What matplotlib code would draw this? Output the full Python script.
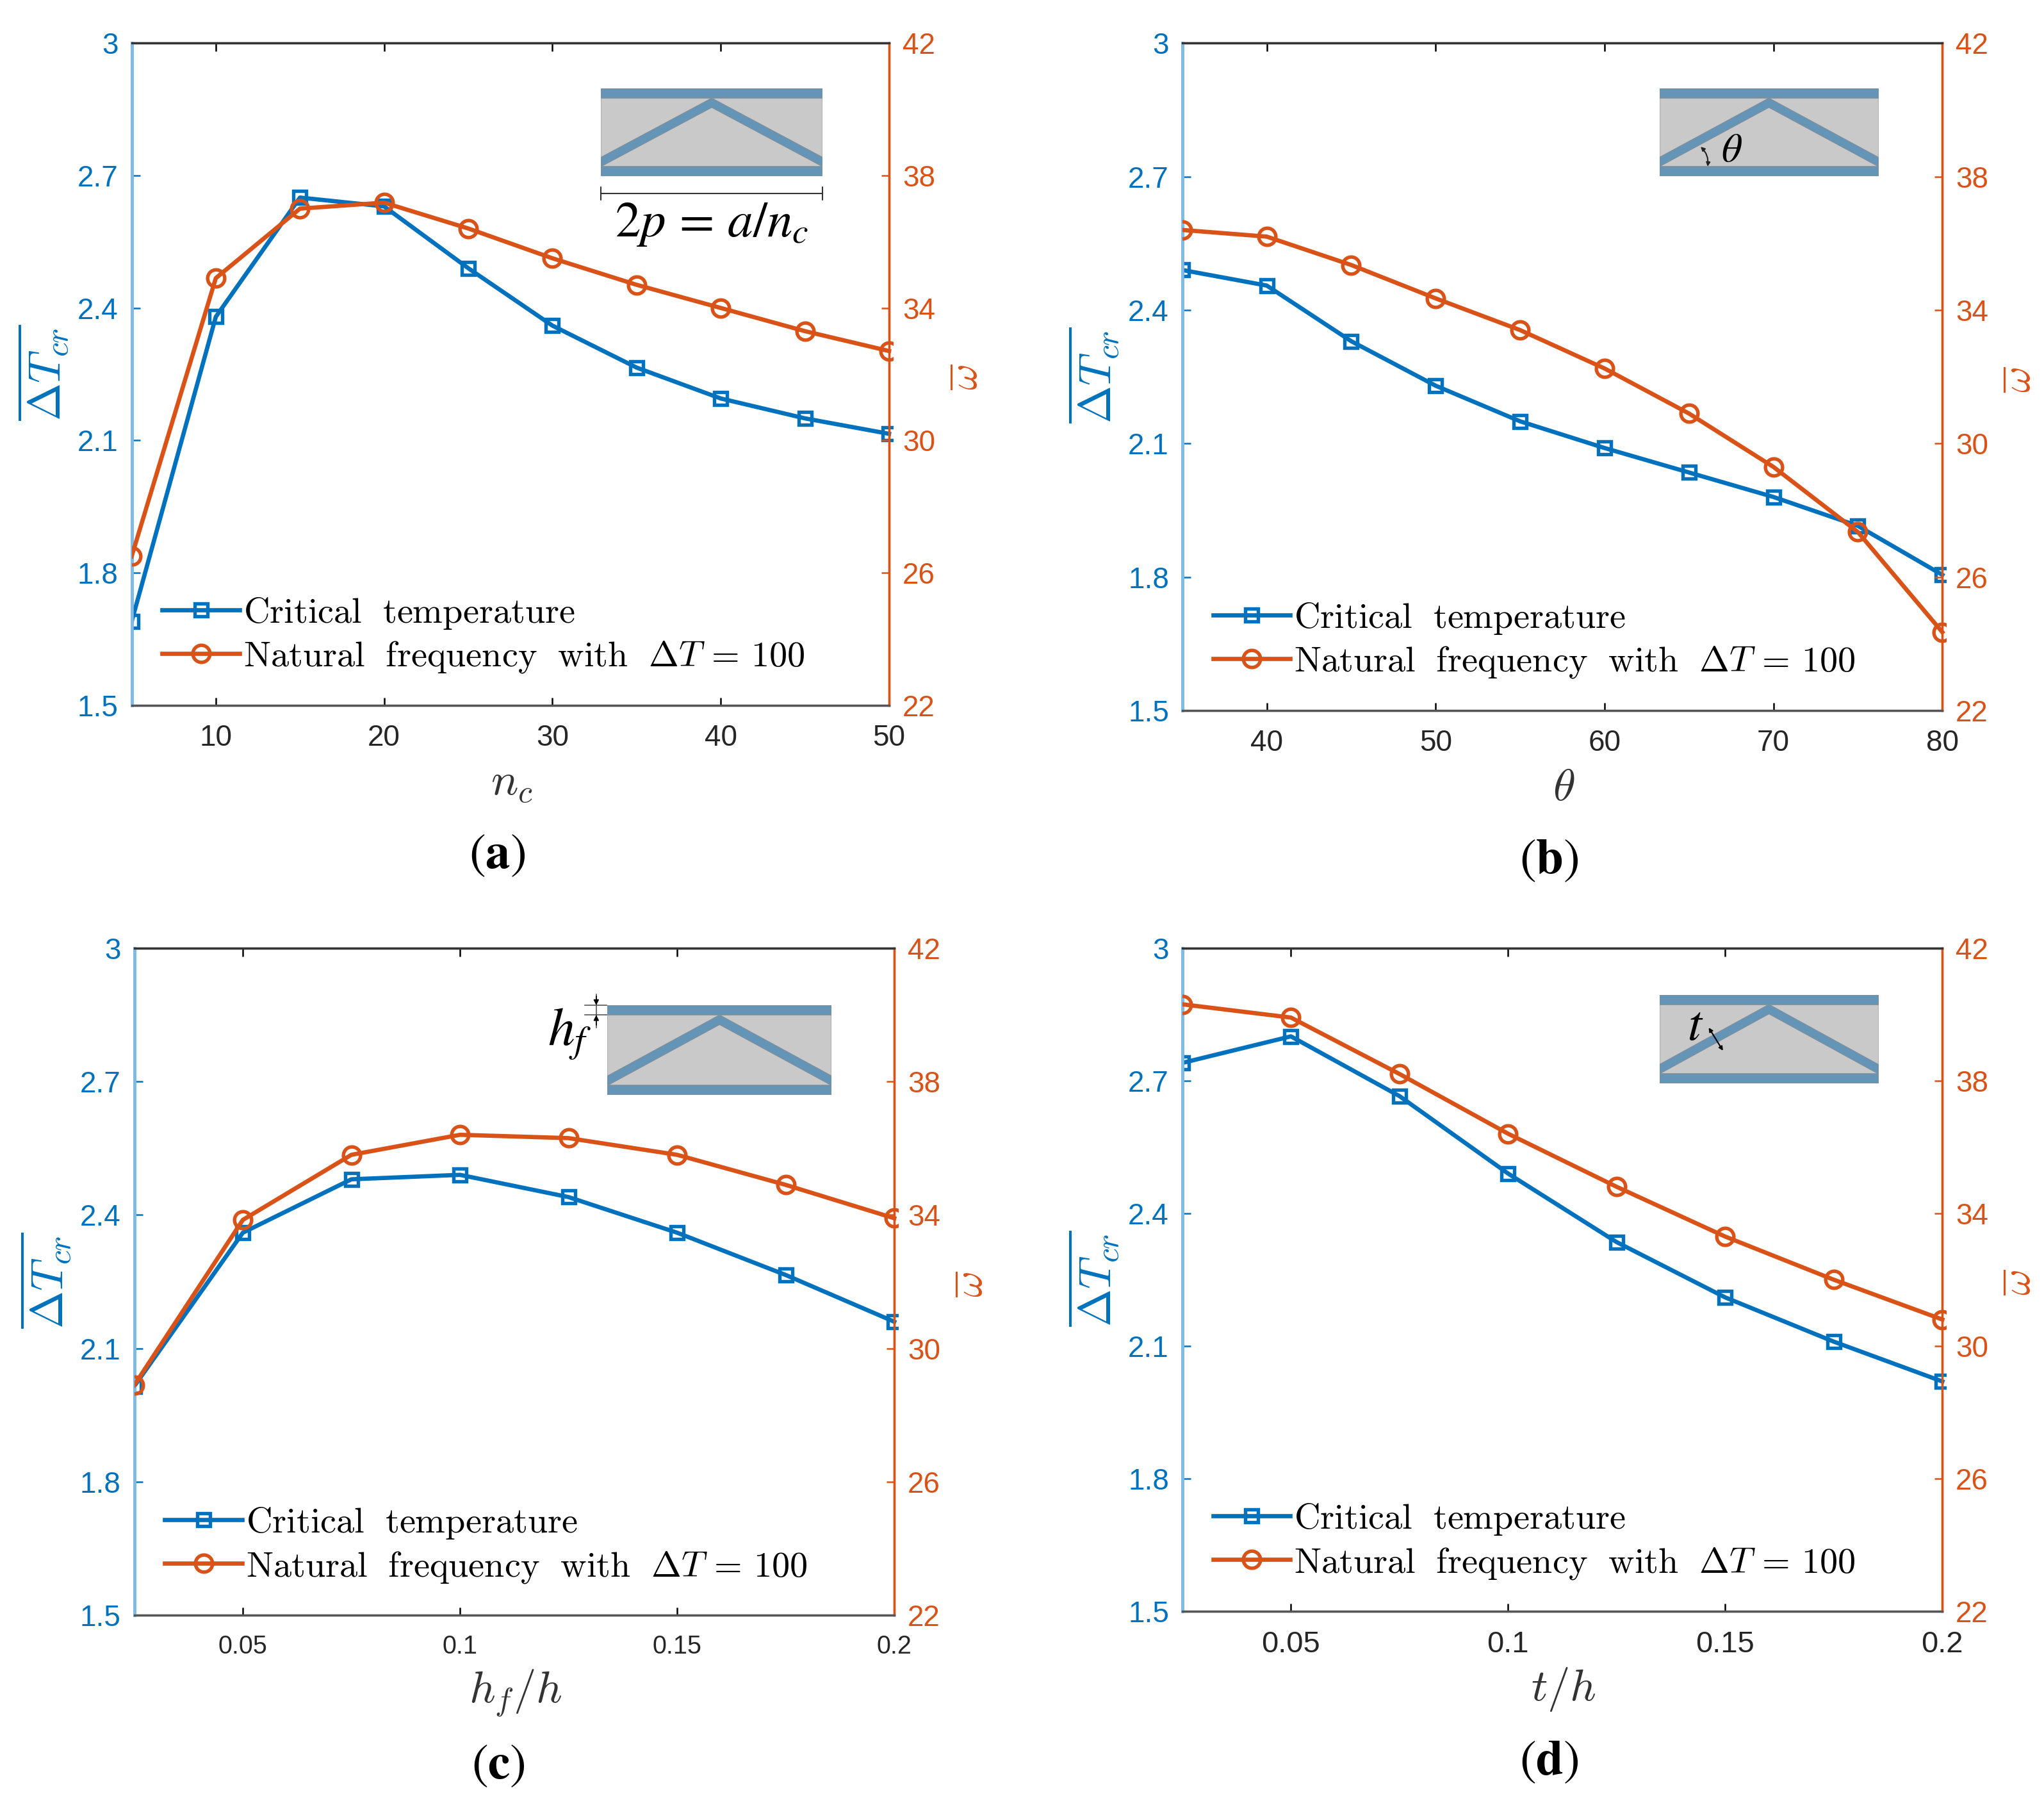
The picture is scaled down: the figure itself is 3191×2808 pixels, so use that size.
"""Four-panel sandwich beam parameter study: critical temperature and frequency."""

import matplotlib

matplotlib.use("Agg")
import matplotlib.pyplot as plt
from matplotlib.patches import Polygon, Rectangle

plt.rcParams.update({
    "font.family": ["Liberation Sans", "DejaVu Sans"],
    "mathtext.fontset": "cm",
    "axes.linewidth": 0.8,
})

BLUE = "#0072BD"
ORANGE = "#D95319"
FACE = "#6494B6"
CORE = "#C9C9C9"
W, H = 3191, 2808
SCALE = 3191 / 1568

nc = [5, 10, 15, 20, 25, 30, 35, 40, 45, 50]
nc_temp = [1.69, 2.38, 2.65, 2.63, 2.49, 2.36, 2.265, 2.195, 2.15, 2.115]
nc_freq = [26.5, 34.9, 37.0, 37.18, 36.4, 35.5, 34.7, 34.0, 33.3, 32.7]

theta = [35, 40, 45, 50, 55, 60, 65, 70, 75, 80]
theta_temp = [2.49, 2.455, 2.33, 2.23, 2.15, 2.09, 2.035, 1.98, 1.915, 1.805]
theta_freq = [36.4, 36.2, 35.35, 34.35, 33.4, 32.25, 30.9, 29.3, 27.35, 24.35]

hf = [0.025, 0.05, 0.075, 0.1, 0.125, 0.15, 0.175, 0.2]
hf_temp = [2.015, 2.36, 2.48, 2.49, 2.44, 2.36, 2.265, 2.16]
hf_freq = [28.9, 33.85, 35.8, 36.4, 36.3, 35.8, 34.9, 33.9]

t = [0.025, 0.05, 0.075, 0.1, 0.125, 0.15, 0.175, 0.2]
t_temp = [2.74, 2.80, 2.665, 2.49, 2.335, 2.21, 2.11, 2.02]
t_freq = [40.3, 39.9, 38.2, 36.4, 34.8, 33.3, 32.0, 30.8]

temp_ticks = [1.5, 1.8, 2.1, 2.4, 2.7, 3]
temp_labels = ["1.5", "1.8", "2.1", "2.4", "2.7", "3"]
freq_ticks = [22, 26, 30, 34, 38, 42]
int_xticks_a = [10, 20, 30, 40, 50]
int_xticks_b = [40, 50, 60, 70, 80]
ratio_xticks = [0.05, 0.1, 0.15, 0.2]
ratio_labels = ["0.05", "0.1", "0.15", "0.2"]

fig = plt.figure(figsize=(W / 300, H / 300), dpi=300)


def box(x0, y0, x1, y1):
    """Rectangle in coordinates of the shrunk picture, top-left origin."""
    left = x0 * SCALE / W
    bottom = 1 - y1 * SCALE / H
    return [left, bottom, (x1 - x0) * SCALE / W, (y1 - y0) * SCALE / H]


def fig_text(x, y, s, **kw):
    fig.text(x * SCALE / W, 1 - y * SCALE / H, s, ha="center", va="center", **kw)


def panel(rect, x, temp, freq, xticks, xlabels, xlabel, tag, tick_size=11):
    ax = fig.add_axes(box(*rect))
    ax2 = ax.twinx()
    line1, = ax.plot(
        x, temp, color=BLUE, lw=1.6, marker="s", ms=4.6, mfc="none", mew=1.3,
        zorder=3, label=r"$\mathrm{Critical\ \ temperature}$",
    )
    line2, = ax2.plot(
        x, freq, color=ORANGE, lw=1.6, marker="o", ms=6.4, mfc="none", mew=1.3,
        zorder=4, label=r"$\mathrm{Natural\ \ frequency\ \ with\ \ }\Delta T\,=\,100$",
    )
    # markers are cut at the left axis and just past the right one
    line1.set_clip_path(Rectangle((0, -0.05), 1.005, 1.1, transform=ax.transAxes))
    line2.set_clip_path(Rectangle((0, -0.05), 1.005, 1.1, transform=ax2.transAxes))

    ax.set_xlim(x[0], x[-1])
    ax.set_ylim(1.5, 3)
    ax2.set_ylim(22, 42)
    ax.set_xticks(xticks)
    ax.set_xticklabels(xlabels, fontsize=tick_size, color="#262626")
    ax.set_yticks(temp_ticks)
    ax.set_yticklabels(temp_labels, fontsize=11, color=BLUE)
    ax2.set_yticks(freq_ticks)
    ax2.set_yticklabels([str(v) for v in freq_ticks], fontsize=11, color=ORANGE)
    ax.tick_params(axis="x", direction="in", length=3, width=0.6, top=True, pad=7)
    ax.tick_params(axis="y", direction="in", length=3, width=0.6, color=BLUE, pad=5)
    ax2.tick_params(axis="y", direction="in", length=3, width=0.6, color=ORANGE, pad=5)
    for a in (ax, ax2):
        a.spines["top"].set_color("#333333")
        a.spines["bottom"].set_color("#555555")
        a.spines["left"].set_color("#7FBBE3")
        a.spines["left"].set_linewidth(1.1)
        a.spines["right"].set_color(ORANGE)

    cx = (rect[0] + rect[2]) / 2
    fig_text(rect[0] - 68, (rect[1] + rect[3]) / 2 - 1,
             r"$\overline{\Delta T_{cr}}$", fontsize=17, color=BLUE, rotation=90)
    fig_text(rect[2] + 60, (rect[1] + rect[3]) / 2 + 2,
             r"$\overline{\omega}$", fontsize=15, color=ORANGE, rotation=90)
    fig_text(cx + 1, rect[3] + 60, xlabel, fontsize=17, color="#333333")
    fig_text(cx + tag[1], rect[3] + 115, tag[0], fontsize=18.5, color="black",
             math_fontfamily="stix")

    leg = ax2.legend(
        handles=[line1, line2], frameon=False, fontsize=13.5, loc="lower left",
        bbox_to_anchor=(0.0165, 0.019), handlelength=2.15, handletextpad=0.1,
        labelspacing=0.24, borderpad=0.0,
    )
    leg.set_zorder(6)
    return ax


def sandwich(rect):
    """Unit-cell sketch: two face sheets and a triangular core strut."""
    ax = fig.add_axes(box(*rect))
    ax.set_xlim(0, 1)
    ax.set_ylim(0, 1)
    ax.axis("off")
    ax.add_patch(Rectangle((0, 0), 1, 1, fc=CORE, ec="#B0B0B0", lw=0.5))
    ax.add_patch(Rectangle((0, 0), 1, 0.108, fc=FACE, ec="#7F8F9C", lw=0.4))
    ax.add_patch(Rectangle((0, 0.892), 1, 0.108, fc=FACE, ec="#7F8F9C", lw=0.4))
    ax.add_patch(Polygon(
        [(0, 0.108), (0.5, 0.785), (1, 0.108), (1, 0.214), (0.5, 0.892), (0, 0.214)],
        fc=FACE, ec="#7F8F9C", lw=0.3,
    ))
    return ax


panel((101, 33, 682, 541), nc, nc_temp, nc_freq, int_xticks_a,
      [str(v) for v in int_xticks_a], r"$n_c$", (r"$(\mathbf{a})$", -10))
panel((907, 33, 1490, 545), theta, theta_temp, theta_freq, int_xticks_b,
      [str(v) for v in int_xticks_b], r"$\theta$", (r"$(\mathbf{b})$", -10))
panel((103, 727, 686, 1239), hf, hf_temp, hf_freq, ratio_xticks, ratio_labels,
      r"$h_f/h$", (r"$(\mathbf{c})$", -12), tick_size=9.5)
panel((907, 727, 1490, 1236), t, t_temp, t_freq, ratio_xticks, ratio_labels,
      r"$t/h$", (r"$(\mathbf{d})$", -10), tick_size=11.3)

# inset (a) with the cell width dimension
ins = sandwich((461, 68, 631, 135))
ins.annotate("", xy=(0, -0.2), xytext=(1, -0.2), annotation_clip=False,
             arrowprops=dict(arrowstyle="|-|,widthA=0.25,widthB=0.25", lw=0.5, color="#333333",
                             shrinkA=0, shrinkB=0))
ins.text(0.5, -0.55, r"$2p\,=\,a/n_c$", transform=ins.transAxes, ha="center", va="center",
         fontsize=19, math_fontfamily="stix", color="black", clip_on=False)

# inset (b) with the strut angle
ins = sandwich((1273, 68, 1441, 135))
ins.text(0.33, 0.29, r"$\theta$", ha="center", va="center", fontsize=15, math_fontfamily="stix")
ins.annotate("", xy=(0.188, 0.335), xytext=(0.22, 0.108),
             arrowprops=dict(arrowstyle="<|-|>", lw=0.5, color="#222222", connectionstyle="arc3,rad=0.25",
                             mutation_scale=3, shrinkA=0, shrinkB=0))

# inset (c) with the face sheet thickness
ins = sandwich((466, 771, 638, 840))
ins.text(-0.17, 0.68, r"$h_f$", ha="center", va="center", fontsize=20, math_fontfamily="stix", clip_on=False)
ins.plot([-0.1, -0.005], [1, 1], color="#555555", lw=0.4, clip_on=False)
ins.plot([-0.1, -0.005], [0.892, 0.892], color="#555555", lw=0.4, clip_on=False)
ins.plot([-0.05, -0.05], [0.75, 1.12], color="#555555", lw=0.4, clip_on=False)
ins.annotate("", xy=(-0.05, 1.0), xytext=(-0.05, 1.1), annotation_clip=False,
             arrowprops=dict(arrowstyle="-|>", lw=0.4, color="black", mutation_scale=4, shrinkA=0, shrinkB=0))
ins.annotate("", xy=(-0.05, 0.892), xytext=(-0.05, 0.78), annotation_clip=False,
             arrowprops=dict(arrowstyle="-|>", lw=0.4, color="black", mutation_scale=4, shrinkA=0, shrinkB=0))

# inset (d) with the strut thickness
ins = sandwich((1273, 763, 1441, 831))
ins.text(0.165, 0.64, r"$t$", ha="center", va="center", fontsize=19, math_fontfamily="stix")
ins.annotate("", xy=(0.225, 0.63), xytext=(0.29, 0.37),
             arrowprops=dict(arrowstyle="<|-|>", lw=0.5, color="black", mutation_scale=3, shrinkA=0, shrinkB=0))

fig.savefig("out.png", dpi=300)
